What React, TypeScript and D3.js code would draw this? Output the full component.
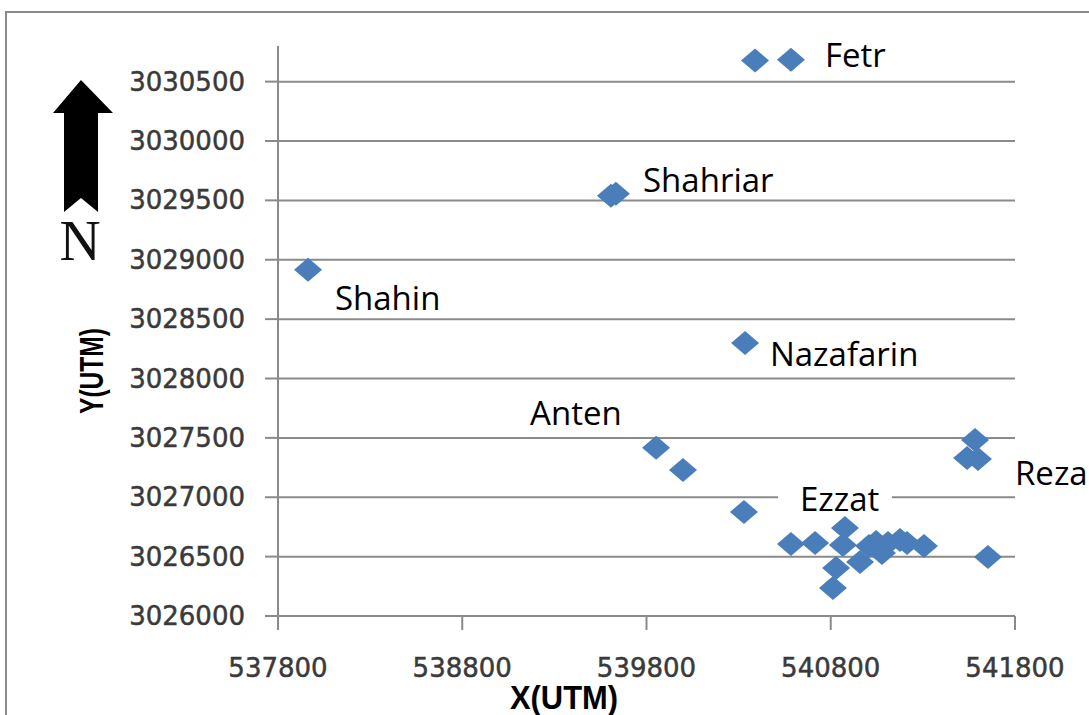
import React from "react";
import * as d3 from "d3";

// well coordinates (UTM)
const xs = [
  540389, 540584, 539607, 539634, 537963, 540335, 539852, 539998, 540329,
  541583, 541540, 541599, 541653, 540584, 540715, 540877, 540866, 540829,
  540812, 540959, 541046, 541078, 541111, 541176, 541214, 541306, 541008,
];
const ys = [
  3030677, 3030685, 3029539, 3029556, 3028916, 3028300, 3027416, 3027230,
  3026876, 3027483, 3027331, 3027323, 3026497, 3026607, 3026615, 3026742,
  3026598, 3026404, 3026236, 3026455, 3026624, 3026531, 3026615, 3026640,
  3026615, 3026590, 3026590,
];

// field name annotations (anchor in UTM)
const labelNames = ["Fetr", "Shahriar", "Shahin", "Nazafarin", "Anten", "Ezzat", "Reza"];
const labelX = [540769, 539781, 538109, 540470, 539168, 540633, 541800];
const labelY = [3030626, 3029573, 3028579, 3028107, 3027609, 3026885, 3027104];

const xTicks = [537800, 538800, 539800, 540800, 541800];
const yTicks = [
  3026000, 3026500, 3027000, 3027500, 3028000, 3028500, 3029000, 3029500,
  3030000, 3030500,
];

const W = 1089;
const H = 715;
const left = 278;
const right = 1015;
const top = 46;
const bottom = 616;

const gridColor = "#8a8a8a";
const blue = "#4a7ebb";
const tickColor = "#3a3a3a";

export default function App() {
  const x = d3.scaleLinear().domain([537800, 541800]).range([left, right]);
  const y = d3.scaleLinear().domain([3026000, 3030800]).range([bottom, top]);

  const diamond = (cx: number, cy: number) =>
    `M${cx},${cy - 12}L${cx + 14},${cy}L${cx},${cy + 12}L${cx - 14},${cy}Z`;

  const points = xs.map((v, i) => ({ x: v, y: ys[i] }));

  // Ezzat label sits on a white box that breaks the gridline
  const ezzatIdx = labelNames.indexOf("Ezzat");

  return (
    <svg
      width={W}
      height={H}
      style={{ position: "absolute", left: 0, top: 0, background: "#fff" }}
    >
      <rect x={6} y={12} width={1100} height={720} fill="#fff" stroke={gridColor} strokeWidth={2} />

      {/* gridlines */}
      {yTicks.slice(1).map((t) => (
        <line key={t} x1={left} x2={right} y1={y(t)} y2={y(t)} stroke={gridColor} strokeWidth={2} />
      ))}

      {/* axes */}
      <line x1={left} x2={left} y1={top} y2={bottom} stroke={gridColor} strokeWidth={2} />
      <line x1={left} x2={right} y1={bottom} y2={bottom} stroke={gridColor} strokeWidth={2} />
      {yTicks.map((t) => (
        <g key={t}>
          <line x1={left - 13} x2={left} y1={y(t)} y2={y(t)} stroke={gridColor} strokeWidth={2} />
          <text
            x={245}
            y={y(t)}
            textAnchor="end"
            dominantBaseline="central"
            fontFamily="DejaVu Sans"
            fontSize={26}
            fill={tickColor}
            stroke={tickColor}
            strokeWidth={0.5}
          >
            {t}
          </text>
        </g>
      ))}
      {xTicks.map((t) => (
        <g key={t}>
          <line x1={x(t)} x2={x(t)} y1={bottom} y2={bottom + 14} stroke={gridColor} strokeWidth={2} />
          <text
            x={x(t)}
            y={668}
            textAnchor="middle"
            dominantBaseline="central"
            fontFamily="DejaVu Sans"
            fontSize={26}
            fill={tickColor}
            stroke={tickColor}
            strokeWidth={0.5}
          >
            {t}
          </text>
        </g>
      ))}

      {/* axis titles */}
      <text
        x={564}
        y={709}
        textAnchor="middle"
        fontFamily="Liberation Sans"
        fontWeight="bold"
        fontSize={34}
        textLength={108}
        lengthAdjust="spacingAndGlyphs"
      >
        X(UTM)
      </text>
      <text
        transform="translate(103,371) rotate(-90)"
        textAnchor="middle"
        fontFamily="Liberation Sans"
        fontWeight="bold"
        fontSize={33}
        textLength={86}
        lengthAdjust="spacingAndGlyphs"
      >
        Y(UTM)
      </text>

      {/* north arrow */}
      <path d="M81,80L113,113L98,113L98,212L81,198L64,212L64,113L53,113Z" fill="#000" />
      <text x={80} y={260} textAnchor="middle" fontFamily="Liberation Serif" fontSize={57} fill="#111">
        N
      </text>

      {/* Ezzat box */}
      <rect
        x={x(labelX[ezzatIdx]) - 22}
        y={y(labelY[ezzatIdx]) - 30}
        width={114}
        height={36}
        fill="#fff"
      />

      {/* wells */}
      {points.map((p, i) => (
        <path key={i} d={diamond(x(p.x), y(p.y))} fill={blue} />
      ))}

      {/* labels */}
      {labelNames.map((n, i) => (
        <text
          key={n}
          x={x(labelX[i])}
          y={y(labelY[i])}
          fontFamily="Open Sans"
          fontSize={33}
          fill="#000"
        >
          {n}
        </text>
      ))}
    </svg>
  );
}
